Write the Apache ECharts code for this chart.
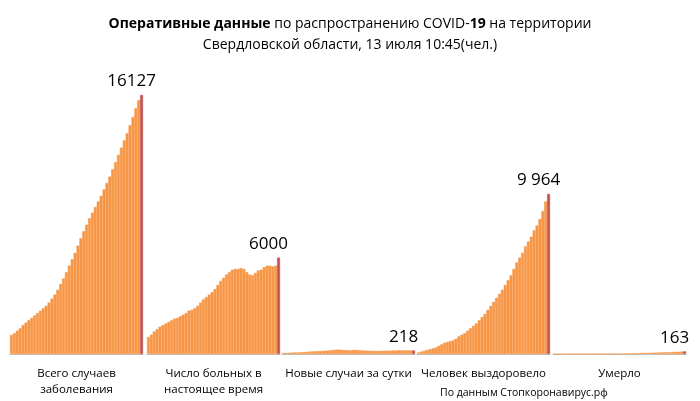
<!DOCTYPE html><html><head><meta charset="utf-8"><script src="https://cdn.jsdelivr.net/npm/echarts@6/dist/echarts.min.js"></script></head><body style="margin:0"><div id="c" style="width:700px;height:401px"></div><script>
const groupNames=['Всего случаев\nзаболевания','Число больных в\nнастоящее время','Новые случаи за сутки','Человек выздоровело','Умерло'];
const lastLabels=['16127','6000','218','9 964','163'];
const totalCases=[1180,1300,1450,1600,1800,1950,2100,2250,2400,2550,2700,2850,3000,3200,3450,3700,4000,4350,4700,5100,5500,5900,6300,6750,7200,7650,8050,8450,8800,9150,9500,9850,10250,10650,11050,11500,11950,12400,12850,13300,13750,14250,14750,15300,15800,16127];
const activeCases=[1060,1200,1400,1550,1700,1800,1900,2000,2100,2200,2250,2350,2450,2550,2700,2750,2850,3000,3200,3400,3550,3700,3850,4050,4300,4550,4750,4950,5100,5250,5300,5300,5350,5300,5100,4950,4900,5050,5200,5250,5400,5500,5500,5450,5500,6000];
const newCases=[60,70,80,90,100,100,110,120,130,150,160,170,180,190,200,210,230,250,270,280,260,250,240,230,250,260,240,230,220,210,200,200,190,190,200,200,210,210,220,220,230,230,220,230,230,218];
const recovered=[100,150,200,250,300,350,400,500,600,700,750,800,850,950,1100,1200,1300,1450,1600,1750,1900,2100,2300,2500,2750,3000,3250,3500,3750,4000,4300,4600,4900,5300,5700,6000,6300,6700,7000,7300,7700,8000,8400,8900,9500,9964];
const deaths=[5,5,5,6,6,7,8,8,9,10,11,12,13,14,15,16,18,20,22,24,26,28,30,33,36,40,44,48,52,56,60,65,70,75,80,86,92,98,104,110,118,126,134,142,152,163];
const groups=[totalCases,activeCases,newCases,recovered,deaths];
const lefts=[10,147,282,417,553];
const W=133, F='"Open Sans", sans-serif';
const grid=[],xAxis=[],yAxis=[],series=[];
groups.forEach((g,i)=>{
  grid.push({left:lefts[i],width:W,top:95,bottom:47,outerBoundsMode:'none',containLabel:false});
  xAxis.push({type:'category',gridIndex:i,data:g.map((_,k)=>k),boundaryGap:true,
    axisLine:{lineStyle:{color:'#bfbfbf'}},axisTick:{show:false},axisLabel:{show:false},
    name:groupNames[i],nameLocation:'middle',nameGap:12,nameTextStyle:{color:'#000',fontSize:11.5,fontFamily:F,lineHeight:16,verticalAlign:'top'}});
  yAxis.push({type:'value',gridIndex:i,min:0,max:16127,show:false});
  series.push({type:'bar',xAxisIndex:i,yAxisIndex:i,barCategoryGap:'0%',barGap:0,large:false,
    data:g.map((v,k)=>k===g.length-1?{value:v,itemStyle:{color:'#c0504d',borderColor:'#c0504d'},label:{show:true,position:'top',formatter:lastLabels[i],fontSize:17,color:'#000',fontFamily:F,offset:[-10,0]}}:v),
    itemStyle:{color:'#f79646',borderColor:'#f79646',borderWidth:0.5}});
});
const ch=echarts.init(document.getElementById('c'));
ch.setOption({animation:false,
  title:{text:'{b|Оперативные данные} по распространению COVID-{b|19} на территории\nСвердловской области, 13 июля 10:45(чел.)',left:'center',top:9,
    textStyle:{fontFamily:F,fontSize:14,fontWeight:'normal',color:'#000',lineHeight:21,rich:{b:{fontFamily:F,fontSize:14,fontWeight:'bold',color:'#000'}}}},
  graphic:[{type:'text',left:440,top:388,style:{text:'По данным Стопкоронавирус.рф',fontFamily:F,fontSize:10.5,fill:'#000'}}],
  grid,xAxis,yAxis,series});
</script></body></html>
